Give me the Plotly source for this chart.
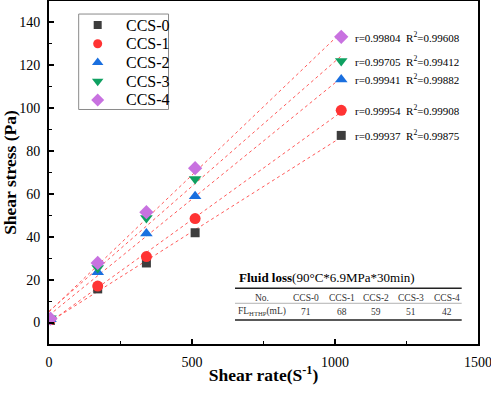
import numpy as np
import plotly.graph_objects as go

# ---------------- data ----------------
shear_rate = [5.1, 170.3, 340.6, 510.9, 1021.8]
series_names = ["CCS-0", "CCS-1", "CCS-2", "CCS-3", "CCS-4"]
ccs0 = [1.0, 15.7, 27.8, 41.9, 87.3]
ccs1 = [1.4, 17.0, 30.8, 48.5, 99.0]
ccs2 = [1.6, 23.5, 41.6, 58.9, 113.4]
ccs3 = [2.0, 25.5, 48.8, 67.0, 122.0]
ccs4 = [1.8, 27.8, 51.5, 72.0, 133.3]
r_values = ["0.99937", "0.99954", "0.99941", "0.99705", "0.99804"]
r2_values = ["0.99875", "0.99908", "0.99882", "0.99412", "0.99608"]

table_title_bold = "Fluid loss"
table_title_rest = "(90°C*6.9MPa*30min)"
table_header = ["No.", "CCS-0", "CCS-1", "CCS-2", "CCS-3", "CCS-4"]
table_row = ["FL<sub>HTHP</sub>(mL)", "71", "68", "59", "51", "42"]

x_ticks = [0, 500, 1000, 1500]
y_ticks = [0, 20, 40, 60, 80, 100, 120, 140]

# ---------------- styles ----------------
series_values = [ccs0, ccs1, ccs2, ccs3, ccs4]
colors = ["#3d3d3d", "#ff3333", "#1a6fdf", "#0fa061", "#c872e0"]
symbols = ["square", "circle", "triangle-up", "triangle-down", "diamond"]
sizes = [9, 11, 11, 11, 11]
legend_sizes = [8, 9, 10, 10, 10]
FONT = "Liberation Serif"

fig = go.Figure()

# fit lines
for vals in series_values:
    k, b = np.polyfit(shear_rate, vals, 1)
    xs = np.array([0.0, max(shear_rate)])
    fig.add_trace(go.Scatter(
        x=xs, y=k * xs + b, mode="lines",
        line=dict(color="#ff5a5a", width=1, dash="dot"),
        showlegend=False, hoverinfo="skip"))

# markers
for name, vals, c, s, sz in zip(series_names, series_values, colors, symbols, sizes):
    fig.add_trace(go.Scatter(
        x=shear_rate, y=vals, mode="markers", name=name, showlegend=False,
        marker=dict(color=c, symbol=s, size=sz, line=dict(width=0))))

# r / R2 annotations
for vals, r, r2 in zip(series_values, r_values, r2_values):
    fig.add_annotation(
        x=shear_rate[-1] + 42, y=vals[-1], xref="x", yref="y",
        text=f"r={r}  R<sup>2</sup>={r2}", showarrow=False,
        xanchor="left", yanchor="middle",
        font=dict(family=FONT, size=11, color="black"))

# custom legend (paper-positioned box, overlay axes for the symbols)
leg_x0, leg_x1, leg_y0, leg_y1 = 0.0692, 0.2786, 0.6837, 0.962
leg_mx, leg_tx = 0.1135, 0.1748
leg_rows = [0.930, 0.8754, 0.8207, 0.766, 0.7114]
fig.add_shape(type="rect", xref="paper", yref="paper",
              x0=leg_x0, x1=leg_x1, y0=leg_y0, y1=leg_y1,
              line=dict(color="#8a8a8a", width=1), fillcolor="white", layer="below")
for name, c, s, sz, ry in zip(series_names, colors, symbols, legend_sizes, leg_rows):
    fig.add_trace(go.Scatter(
        x=[leg_mx], y=[ry], xaxis="x2", yaxis="y2", mode="markers",
        marker=dict(color=c, symbol=s, size=sz, line=dict(width=0)),
        showlegend=False, hoverinfo="skip", cliponaxis=False))
    fig.add_annotation(x=leg_tx, y=ry, xref="paper", yref="paper",
                       xanchor="left", yanchor="middle", text=name, showarrow=False,
                       font=dict(family=FONT, size=16, color="black"))

# table
tx0, tx1 = 0.4336, 0.962
line_ys = [0.1624, 0.1187, 0.070]
line_w = [1.4, 0.8, 1.4]
line_c = ["#222222", "#a0a0a0", "#222222"]
for ly, lw, lc in zip(line_ys, line_w, line_c):
    fig.add_shape(type="line", xref="paper", yref="paper",
                  x0=tx0, x1=tx1, y0=ly, y1=ly,
                  line=dict(color=lc, width=lw))
fig.add_annotation(
    x=0.4389, y=0.1933, xref="paper", yref="paper", xanchor="left", yanchor="middle",
    text=f"<b>{table_title_bold}</b>{table_title_rest}", showarrow=False,
    font=dict(family=FONT, size=13, color="black"))
col_x = [0.4975, 0.599, 0.682, 0.763, 0.844, 0.928]
row_y = [0.135, 0.0942]
for row, ry in zip([table_header, table_row], row_y):
    for cell, cx in zip(row, col_x):
        fig.add_annotation(
            x=cx, y=ry, xref="paper", yref="paper", xanchor="center", yanchor="middle",
            text=cell, showarrow=False,
            font=dict(family=FONT, size=9.5, color="#333333"))

axis_common = dict(
    showline=True, linecolor="black", linewidth=2, mirror=True,
    ticks="inside", ticklen=5, tickwidth=1.5, tickcolor="black",
    showgrid=False, zeroline=False, automargin=False,
    ticklabeloverflow="allow",
    tickfont=dict(family=FONT, size=14, color="black"),
)

fig.update_layout(
    width=491, height=394,
    margin=dict(l=49, r=13, t=1, b=50, autoexpand=False),
    paper_bgcolor="white", plot_bgcolor="white",
    font=dict(family=FONT, color="black"),
    showlegend=False,
    xaxis=dict(range=[0, 1500], tickvals=x_ticks,
               minor=dict(ticks="inside", ticklen=3, tickwidth=1.2, dtick=250, tick0=0, tickcolor="black"),
               title=dict(text="<b>Shear rate(S<sup>-1</sup>)</b>",
                          font=dict(family=FONT, size=17.5, color="black"), standoff=0),
               ticklabelstandoff=4,
               **axis_common),
    yaxis=dict(range=[-10, 150], tickvals=y_ticks,
               minor=dict(ticks="inside", ticklen=3, tickwidth=1.2, dtick=10, tick0=0, tickcolor="black"),
               title=dict(text="<b>Shear stress (Pa)</b>",
                          font=dict(family=FONT, size=17.5, color="black"), standoff=5),
               ticklabelstandoff=4,
               **axis_common),
    xaxis2=dict(overlaying="x", range=[0, 1], visible=False, fixedrange=True),
    yaxis2=dict(overlaying="y", range=[0, 1], visible=False, fixedrange=True),
)

fig.write_html("out.html", config={"displayModeBar": False},
               post_script="document.body.style.margin='0px';document.body.style.padding='0px';")
